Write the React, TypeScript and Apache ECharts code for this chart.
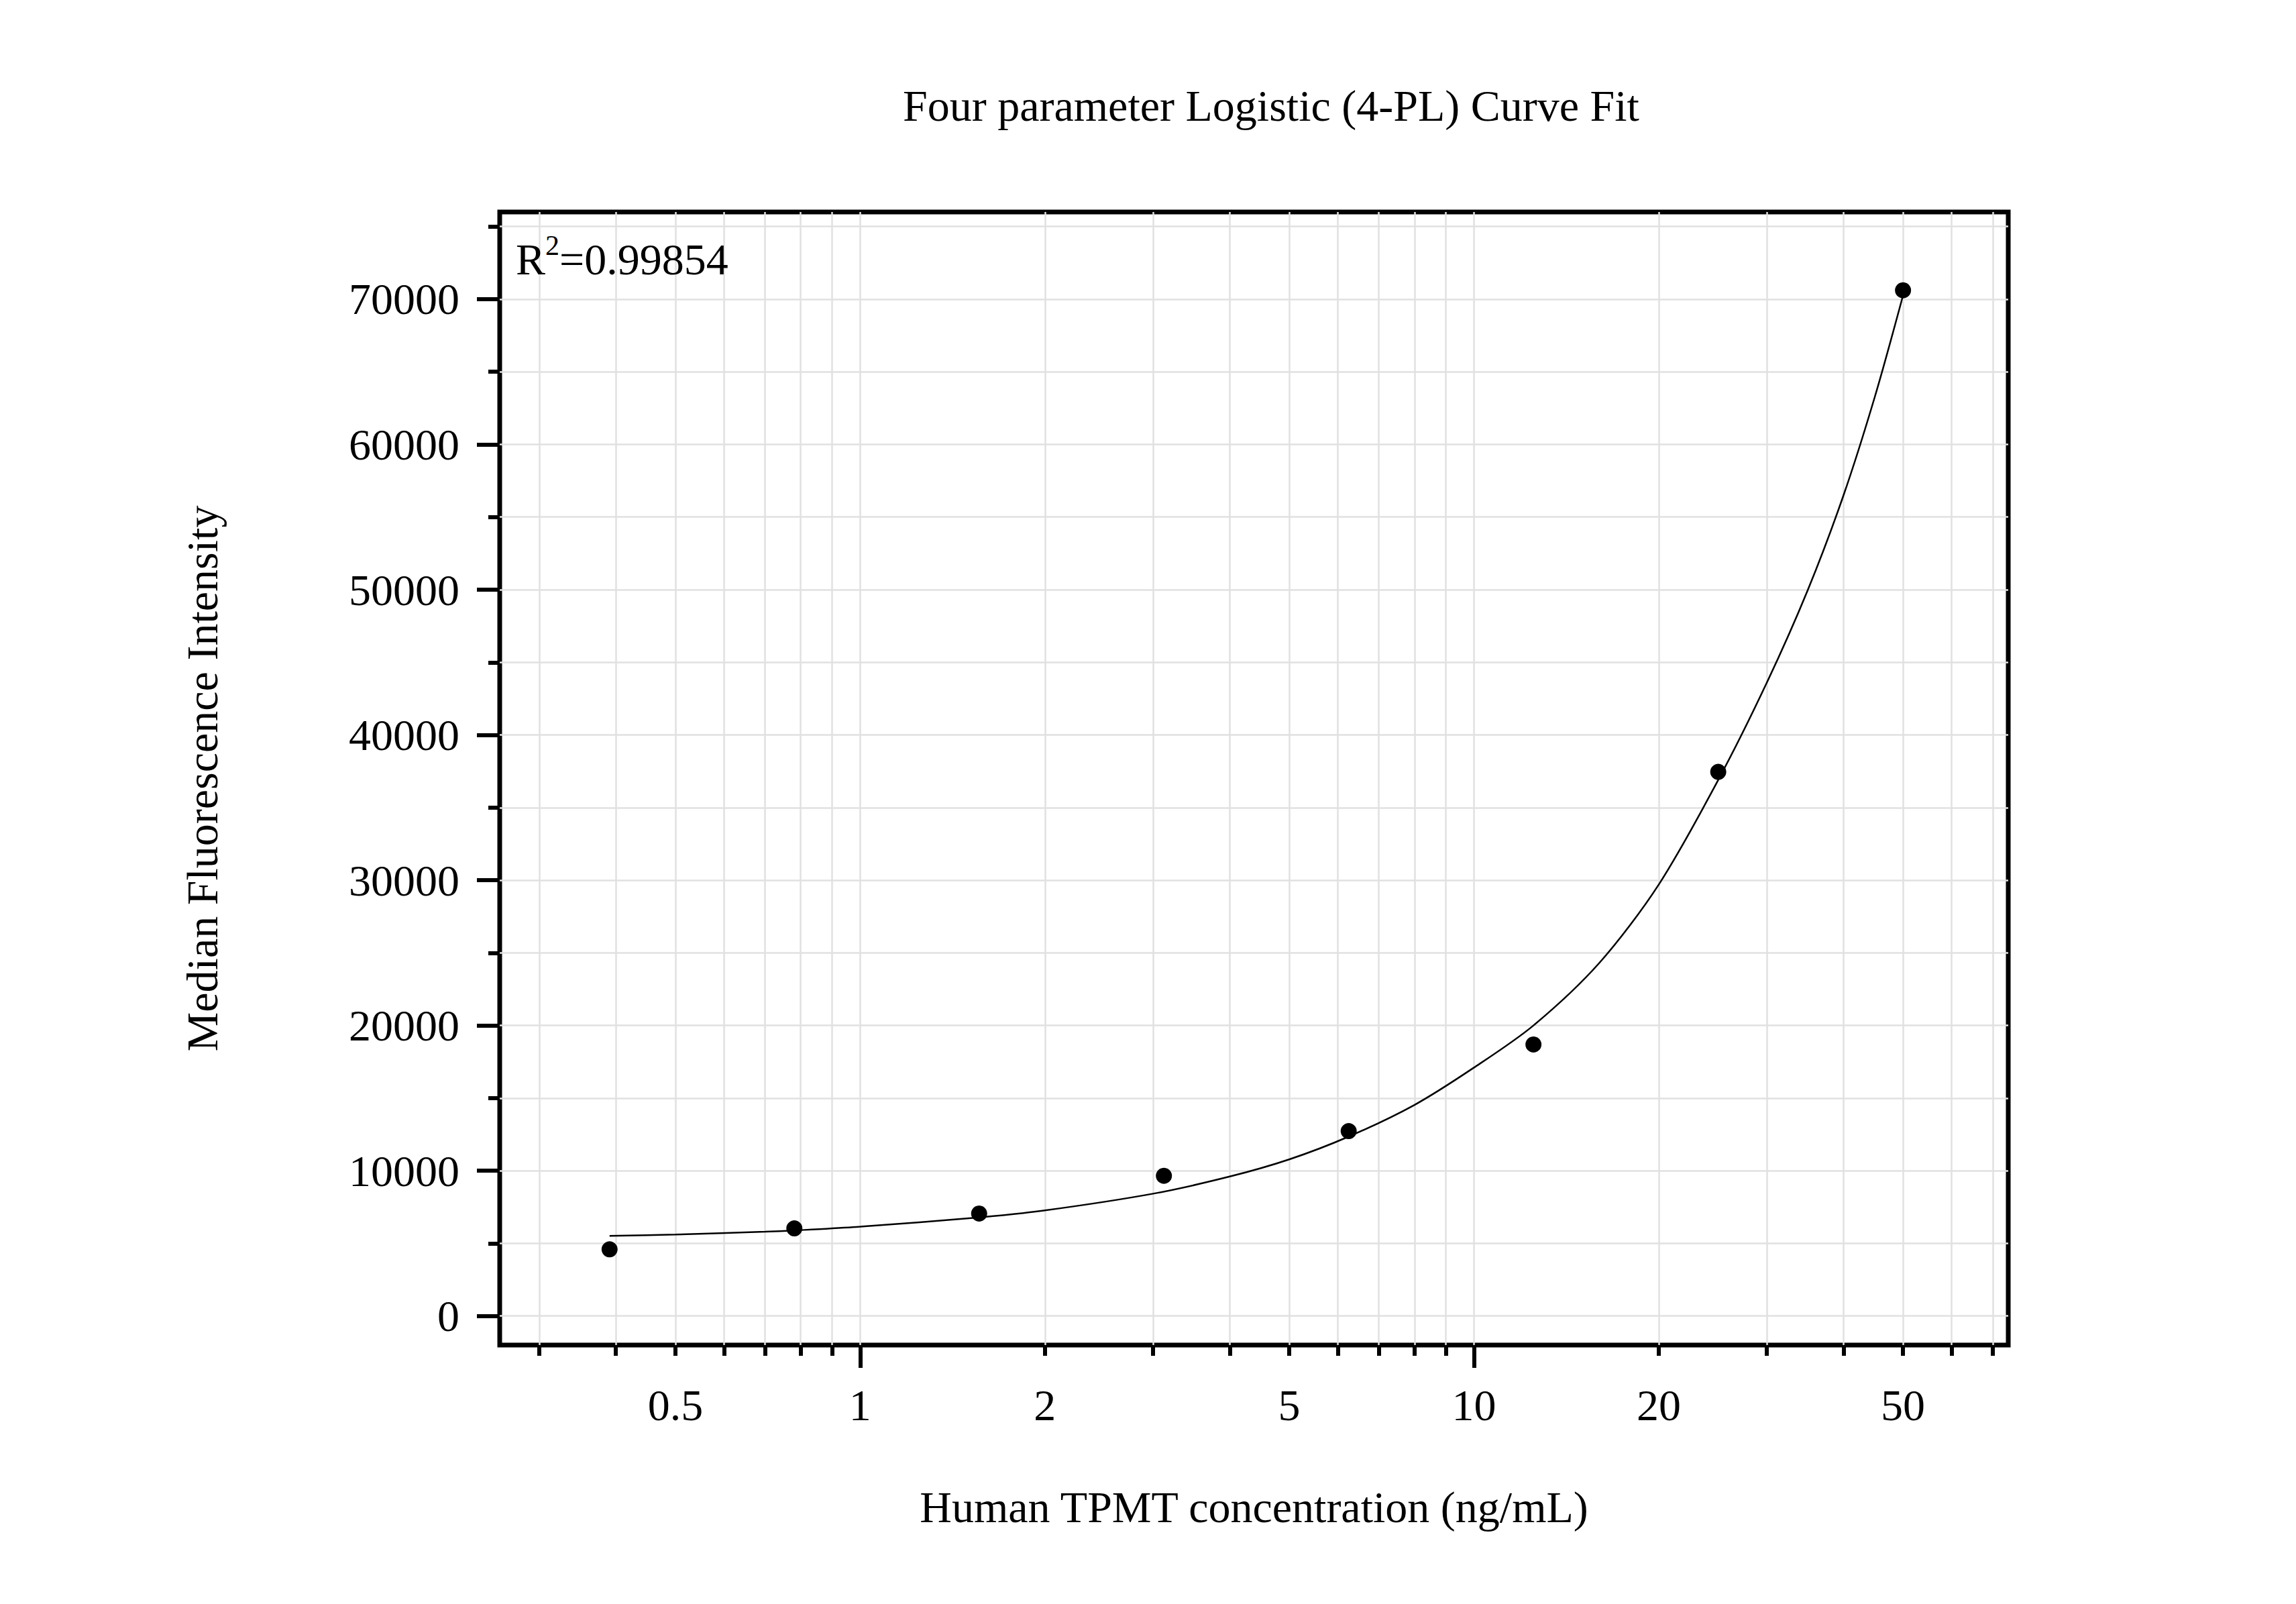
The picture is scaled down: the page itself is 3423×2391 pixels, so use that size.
import React, { useEffect, useRef } from "react";
import * as echarts from "echarts";

// measured standards (concentration in ng/mL, median fluorescence intensity)
const CONC = [0.390625, 0.78125, 1.5625, 3.125, 6.25, 12.5, 25, 50];
const MFI = [4590, 6030, 7055, 9650, 12730, 18690, 37460, 70610];

// 4-PL fit curve
const FIT_CONC = [
  0.390625, 0.5, 0.7, 0.78125, 1, 1.5625, 2, 3, 4, 5, 6.25, 8, 10, 12.5, 16,
  20, 25, 30, 35, 40, 45, 50,
];
const FIT_MFI = [
  5520, 5610, 5800, 5890, 6150, 6790, 7270, 8420, 9600, 10780, 12350, 14530,
  17100, 20000, 24300, 29700, 36900, 43600, 50000, 56500, 63300, 70250,
];

const X_TICKS = [
  0.3, 0.4, 0.5, 0.6, 0.7, 0.8, 0.9, 1, 2, 3, 4, 5, 6, 7, 8, 9, 10, 20, 30, 40,
  50, 60, 70,
];
const X_MAJOR = [1, 10];
const X_LABELS = [0.5, 1, 2, 5, 10, 20, 50];
const Y_MAJOR = [0, 10000, 20000, 30000, 40000, 50000, 60000, 70000];
const Y_MINOR = [5000, 15000, 25000, 35000, 45000, 55000, 65000, 75000];

const X_MIN = 0.2587;
const X_MAX = 74.2;
const Y_MIN = -2000;
const Y_MAX = 76000;

const FONT = "'Liberation Serif', 'Times New Roman', serif";
const GRID_COLOR = "#e1e1e1";

const lg = (v: number) => Math.log10(v);

const App: React.FC = () => {
  const chartRef = useRef<HTMLDivElement>(null);

  useEffect(() => {
    document.body.style.margin = "0";
    if (!chartRef.current) return;
    const chart = echarts.init(chartRef.current, undefined, { renderer: "svg" });

    const grid = { left: 745, top: 316, width: 2249, height: 1689 };

    const xBase = {
      type: "value",
      min: lg(X_MIN),
      max: lg(X_MAX),
      position: "bottom",
      axisLine: { show: false, onZero: false },
    };
    const yBase = {
      type: "value",
      min: Y_MIN,
      max: Y_MAX,
      position: "left",
      axisLine: { show: false, onZero: false },
    };

    const option = {
      animation: false,
      backgroundColor: "#fff",
      textStyle: { fontFamily: FONT, color: "#000" },
      grid: {
        ...grid,
        show: true,
        borderColor: "#000",
        borderWidth: 7,
        containLabel: false,
        outerBoundsMode: "none",
      },
      graphic: [
        {
          type: "text",
          x: 1895,
          y: 157,
          style: {
            text: "Four parameter Logistic (4-PL) Curve Fit",
            align: "center",
            verticalAlign: "middle",
            fontSize: 66,
            fontFamily: FONT,
            fill: "#000",
          },
        },
        {
          type: "text",
          x: 769,
          y: 382,
          z: 10,
          style: {
            text: "{m|R}{s|2}{m|=0.99854}",
            align: "left",
            verticalAlign: "middle",
            rich: {
              m: { fontSize: 66, lineHeight: 74, fontFamily: FONT, fill: "#000", color: "#000", verticalAlign: "bottom" },
              s: { fontSize: 42, lineHeight: 42, fontFamily: FONT, fill: "#000", color: "#000", verticalAlign: "top" },
            },
          },
        },
      ],
      xAxis: [
        {
          ...xBase,
          name: "Human TPMT concentration (ng/mL)",
          nameLocation: "middle",
          nameGap: 208,
          nameTextStyle: { fontSize: 66, fontFamily: FONT, color: "#000" },
          axisTick: {
            show: true,
            length: 16,
            customValues: X_TICKS.map(lg),
            lineStyle: { color: "#000", width: 6 },
          },
          axisLabel: {
            show: true,
            margin: 56,
            fontSize: 66,
            fontFamily: FONT,
            color: "#000",
            customValues: X_LABELS.map(lg),
            formatter: (v: number) => {
              const hit = X_LABELS.find((l) => Math.abs(lg(l) - v) < 1e-6);
              return hit === undefined ? "" : String(hit);
            },
          },
          splitLine: { show: true, lineStyle: { color: GRID_COLOR, width: 2.5 } },
        },
        {
          ...xBase,
          axisTick: {
            show: true,
            length: 34,
            customValues: X_MAJOR.map(lg),
            lineStyle: { color: "#000", width: 6 },
          },
          axisLabel: { show: false },
          splitLine: { show: false },
        },
      ],
      yAxis: [
        {
          ...yBase,
          name: "Median Fluorescence Intensity",
          nameLocation: "middle",
          nameGap: 411,
          nameRotate: 90,
          nameTextStyle: { fontSize: 66, fontFamily: FONT, color: "#000" },
          axisTick: {
            show: true,
            length: 34,
            customValues: Y_MAJOR,
            lineStyle: { color: "#000", width: 6 },
          },
          axisLabel: {
            show: true,
            margin: 60,
            fontSize: 66,
            fontFamily: FONT,
            color: "#000",
            customValues: Y_MAJOR,
            formatter: (v: number) => String(v),
          },
          splitLine: { show: true, lineStyle: { color: GRID_COLOR, width: 2.5 } },
        },
        {
          ...yBase,
          axisTick: {
            show: true,
            length: 17,
            customValues: Y_MINOR,
            lineStyle: { color: "#000", width: 6 },
          },
          axisLabel: { show: false },
          splitLine: { show: true, lineStyle: { color: GRID_COLOR, width: 2.5 } },
        },
      ],
      series: [
        {
          name: "4-PL fit",
          type: "line",
          xAxisIndex: 0,
          yAxisIndex: 0,
          data: FIT_CONC.map((c, i) => [lg(c), FIT_MFI[i]]),
          smooth: 0.3,
          showSymbol: false,
          symbol: "none",
          lineStyle: { color: "#000", width: 2.5 },
          z: 3,
        },
        {
          name: "Standards",
          type: "scatter",
          xAxisIndex: 0,
          yAxisIndex: 0,
          data: CONC.map((c, i) => [lg(c), MFI[i]]),
          symbol: "circle",
          symbolSize: 24,
          itemStyle: { color: "#000", opacity: 1 },
          z: 4,
        },
      ],
    };

    chart.setOption(option as any);

    return () => {
      chart.dispose();
    };
  }, []);

  return <div ref={chartRef} style={{ width: 3423, height: 2391 }} />;
};

export default App;
